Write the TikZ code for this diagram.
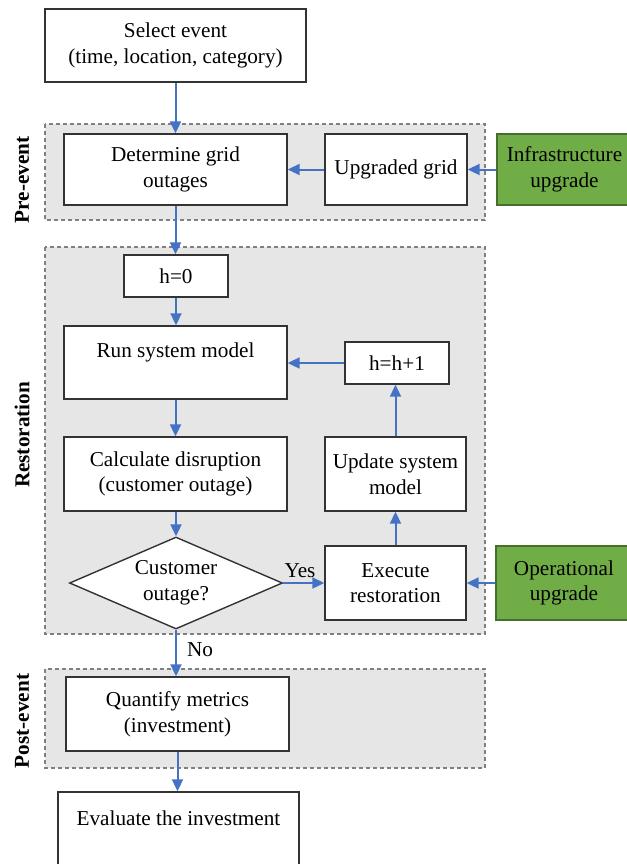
\documentclass[tikz,border=0pt]{standalone}
\usepackage{fontspec}
\setmainfont{Liberation Serif}
\usetikzlibrary{arrows.meta,shapes.geometric,positioning}
\definecolor{flowblue}{RGB}{68,114,196}
\definecolor{upgreen}{RGB}{112,173,71}
\definecolor{upgreendark}{RGB}{70,110,45}
\definecolor{phasegray}{RGB}{230,230,230}
\tikzset{
  >={Triangle[length=6pt,width=5.5pt]},
  line cap=round,
  box/.style={draw=black!80, fill=white, line width=0.7pt, align=center, inner sep=2pt,
    font=\fontsize{10.6pt}{12.8pt}\selectfont},
  greenbox/.style={box, draw=upgreendark, fill=upgreen},
  decision/.style={box, diamond, aspect=2.3, inner sep=0pt},
  arrow/.style={->, draw=flowblue, line width=1pt},
  phase/.style={draw=gray, fill=phasegray, dash pattern=on 2pt off 1.5pt, line width=0.6pt},
  phaselabel/.style={rotate=90, font=\fontsize{10.6pt}{12.8pt}\selectfont\bfseries},
  edgelabel/.style={inner sep=1pt, font=\fontsize{10.6pt}{12.8pt}\selectfont}
}

\begin{document}
\begin{tikzpicture}[x=0.5pt, y=-0.5pt]
  \useasboundingbox (0,0) rectangle (627,864);

  % phases
  \draw[phase] (45,124) rectangle (485,220);
  \draw[phase] (45,247) rectangle (485,634);
  \draw[phase] (45,669) rectangle (485,768);
  \node[phaselabel] (lblpre) at (22,180) {Pre-event};
  \node[phaselabel] (lblrest) at (22,435) {Restoration};
  \node[phaselabel] (lblpost) at (22,721) {Post-event};

  % boxes
  \node[box, minimum width=130.5pt, minimum height=36.5pt] (sel) at (175.5,45.5) {Select event\\(time, location, category)};
  \node[box, minimum width=111.5pt, minimum height=35.5pt] (det) at (175.5,169.5) {Determine grid\\outages};
  \node[box, minimum width=71pt, minimum height=35.5pt] (upg) at (396,169.5) {Upgraded grid};
  \node[greenbox, minimum width=67.5pt, minimum height=35.5pt] (infra) at (564.5,169.5) {Infrastructure\\upgrade};
  \node[box, minimum width=52pt, minimum height=21pt] (h0) at (176,276) {h=0};
  \node[box, minimum width=111.5pt, minimum height=36.5pt] (run) at (175.5,362.5) {Run system model\\\mbox{}};
  \node[box, minimum width=52pt, minimum height=21pt] (hh) at (397,363) {h=h+1};
  \node[box, minimum width=111.5pt, minimum height=37pt] (calc) at (175.5,474) {Calculate disruption\\(customer outage)};
  \node[box, minimum width=70.5pt, minimum height=37pt] (updt) at (395.5,474) {Update system\\model};
  \node[decision, minimum width=106.5pt, minimum height=46pt] (dia) at (176,583) {Customer\\outage?};
  \node[box, minimum width=70.5pt, minimum height=37pt] (exe) at (395.5,583) {Execute\\restoration};
  \node[greenbox, minimum width=68pt, minimum height=37pt] (oper) at (564,583) {Operational\\upgrade};
  \node[box, minimum width=111.5pt, minimum height=37pt] (quant) at (177.5,714) {Quantify metrics\\(investment)};
  \node[box, minimum width=120.5pt, minimum height=39pt] (eval) at (178.5,831) {Evaluate the investment\\\mbox{}};

  % connectors
  \draw[arrow] (sel) -- (det);
  \draw[arrow] (upg) -- (det);
  \draw[arrow] (infra) -- (upg);
  \draw[arrow] (det.south) -- (det.south |- h0.north);
  \draw[arrow] (h0) -- (h0 |- run.north);
  \draw[arrow] (run) -- (calc);
  \draw[arrow] (calc.south -| dia.north) -- (dia.north);
  \draw[arrow] (dia.east) -- (exe.west);
  \draw[arrow] (oper) -- (exe);
  \draw[arrow] (exe) -- (updt);
  \draw[arrow] (updt.north) -- (updt.north |- hh.south);
  \draw[arrow] (hh.west) -- (hh.west -| run.east);
  \draw[arrow] (dia.south) -- (dia.south |- quant.north);
  \draw[arrow] (quant.south) -- (quant.south |- eval.north);

  % labels
  \node[edgelabel] (lblyes) at (300,571) {Yes};
  \node[edgelabel] (lblno) at (200,650) {No};
\end{tikzpicture}
\end{document}
